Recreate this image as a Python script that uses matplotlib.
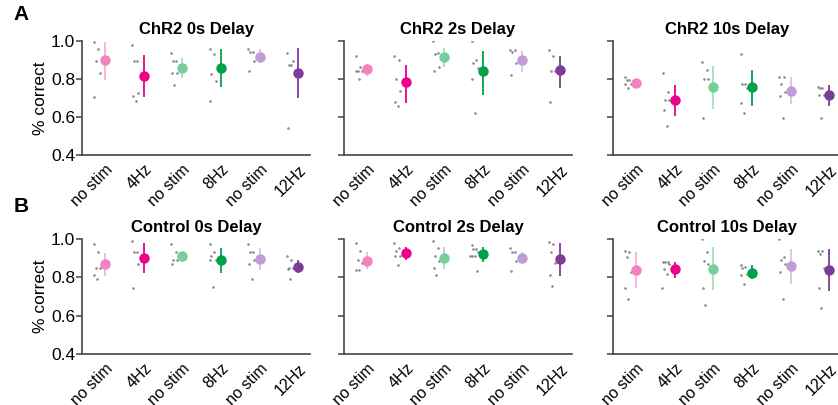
import matplotlib
matplotlib.use("Agg")
import matplotlib.pyplot as plt
import numpy as np

plt.rcParams['font.family'] = ['Liberation Sans', 'DejaVu Sans']

# categorias e cores
categorias = ["no stim", "4Hz", "no stim", "8Hz", "no stim", "12Hz"]
cores_media = ["#F283C0", "#EC008C", "#74CF9A", "#00A14B", "#C19BD6", "#7D3C98"]
cores_erro = ["#F7B3D8", "#EC008C", "#A5E0BE", "#00A14B", "#D9C2E6", "#7D3C98"]

titulos = ["ChR2 0s Delay", "ChR2 2s Delay", "ChR2 10s Delay",
           "Control 0s Delay", "Control 2s Delay", "Control 10s Delay"]

# ChR2 0s
chr2_0_media = [0.898, 0.816, 0.860, 0.858, 0.918, 0.832]
chr2_0_inf = [0.795, 0.705, 0.804, 0.756, 0.883, 0.698]
chr2_0_sup = [0.996, 0.926, 0.912, 0.956, 0.956, 0.962]
chr2_0_pts = [[0.996, 0.956, 0.893, 0.833, 0.705],
              [0.979, 0.893, 0.893, 0.725, 0.712, 0.686],
              [0.938, 0.893, 0.893, 0.833, 0.833, 0.768],
              [0.956, 0.930, 0.825, 0.791, 0.686],
              [0.956, 0.940, 0.940, 0.895, 0.844],
              [0.938, 0.874, 0.874, 0.895, 0.540]]

# ChR2 2s
chr2_2_media = [0.853, 0.784, 0.918, 0.844, 0.900, 0.846]
chr2_2_inf = [0.816, 0.672, 0.865, 0.718, 0.835, 0.751]
chr2_2_sup = [0.879, 0.872, 0.965, 0.949, 0.949, 0.921]
chr2_2_pts = [[0.921, 0.861, 0.842, 0.842, 0.842, 0.800],
              [0.921, 0.900, 0.800, 0.737, 0.681, 0.658],
              [1.000, 0.937, 0.930, 0.861, 0.840],
              [1.000, 0.900, 0.883, 0.860, 0.800, 0.619],
              [0.954, 0.954, 0.940, 0.886, 0.821],
              [0.953, 0.923, 0.844, 0.844, 0.681]]

# ChR2 10s
chr2_10_media = [0.781, 0.689, 0.756, 0.756, 0.738, 0.714]
chr2_10_inf = [0.770, 0.605, 0.640, 0.658, 0.667, 0.660]
chr2_10_sup = [0.790, 0.768, 0.870, 0.847, 0.809, 0.768]
chr2_10_pts = [[0.811, 0.795, 0.795, 0.772, 0.772, 0.751],
               [0.833, 0.733, 0.692, 0.692, 0.637, 0.554],
               [0.891, 0.847, 0.800, 0.800, 0.596],
               [0.930, 0.774, 0.774, 0.754, 0.672, 0.623],
               [0.811, 0.811, 0.772, 0.733, 0.712, 0.596],
               [0.758, 0.753, 0.753, 0.716, 0.716, 0.596]]

# Control 0s
ctrl_0_media = [0.868, 0.899, 0.911, 0.890, 0.896, 0.856]
ctrl_0_inf = [0.807, 0.821, 0.882, 0.821, 0.838, 0.821]
ctrl_0_sup = [0.929, 0.977, 0.934, 0.955, 0.951, 0.890]
ctrl_0_pts = [[0.972, 0.930, 0.850, 0.850, 0.812, 0.791],
              [0.990, 0.930, 0.930, 0.868, 0.743],
              [0.972, 0.930, 0.890, 0.890, 0.868],
              [0.972, 0.930, 0.911, 0.890, 0.890, 0.751],
              [0.972, 0.930, 0.930, 0.890, 0.868, 0.791],
              [0.911, 0.890, 0.850, 0.850, 0.842, 0.791]]

# Control 2s
ctrl_2_media = [0.887, 0.925, 0.899, 0.920, 0.900, 0.894]
ctrl_2_inf = [0.845, 0.890, 0.843, 0.878, 0.868, 0.807]
ctrl_2_sup = [0.932, 0.957, 0.957, 0.960, 0.930, 0.977]
ctrl_2_pts = [[0.978, 0.937, 0.890, 0.873, 0.840, 0.840],
              [0.978, 0.951, 0.937, 0.911, 0.911, 0.864],
              [0.991, 0.955, 0.911, 0.887, 0.847, 0.812],
              [0.970, 0.950, 0.950, 0.930, 0.910, 0.910, 0.910, 0.835],
              [0.955, 0.930, 0.930, 0.887, 0.835],
              [0.985, 0.975, 0.930, 0.873, 0.812, 0.755]]

# Control 10s
ctrl_10_media = [0.838, 0.842, 0.843, 0.824, 0.859, 0.838]
ctrl_10_inf = [0.742, 0.795, 0.734, 0.790, 0.765, 0.730]
ctrl_10_sup = [0.930, 0.880, 0.957, 0.865, 0.950, 0.950]
ctrl_10_pts = [[0.940, 0.930, 0.908, 0.830, 0.742, 0.685],
               [0.882, 0.882, 0.882, 0.870, 0.842, 0.817, 0.742],
               [1.000, 0.930, 0.885, 0.870, 0.742, 0.656],
               [0.865, 0.855, 0.850, 0.820, 0.810, 0.763],
               [1.000, 0.905, 0.890, 0.870, 0.830, 0.685],
               [0.935, 0.935, 0.920, 0.850, 0.742, 0.638]]

paineis = [
    (chr2_0_media, chr2_0_inf, chr2_0_sup, chr2_0_pts),
    (chr2_2_media, chr2_2_inf, chr2_2_sup, chr2_2_pts),
    (chr2_10_media, chr2_10_inf, chr2_10_sup, chr2_10_pts),
    (ctrl_0_media, ctrl_0_inf, ctrl_0_sup, ctrl_0_pts),
    (ctrl_2_media, ctrl_2_inf, ctrl_2_sup, ctrl_2_pts),
    (ctrl_10_media, ctrl_10_inf, ctrl_10_sup, ctrl_10_pts),
]

W, H = 838, 405
fig = plt.figure(figsize=(W / 100, H / 100), dpi=100)

esquerdas = [82, 344, 613]
largura = 228
linhas = [(41, 155), (239, 354)]  # topo e base em pixels

cor_eixo = "#444444"
desloc = [-0.30, -0.18, -0.25, -0.14, -0.28, -0.21, -0.33, -0.16]

for k, (media, inf, sup, pts) in enumerate(paineis):
    lin, col = divmod(k, 3)
    topo, base = linhas[lin]
    ax = fig.add_axes([esquerdas[col] / W, 1 - base / H, largura / W, (base - topo) / H])
    x = np.arange(len(categorias))

    # pontos individuais (cinza, à esquerda da média)
    for i, ys in enumerate(pts):
        xs = [i + desloc[j % len(desloc)] for j in range(len(ys))]
        ax.scatter(xs, ys, s=3.5, color="#8a8a8a", linewidths=0, zorder=2)

    # média e intervalo
    for i in range(len(categorias)):
        ax.plot([x[i], x[i]], [inf[i], sup[i]], color=cores_erro[i], lw=1.3,
                solid_capstyle="butt", zorder=3)
        ax.plot(x[i], media[i], "o", ms=7.5, color=cores_media[i], mec="none", zorder=4)

    ax.set_xlim(-0.6, 5.3)
    ax.set_ylim(0.4, 1.0)
    ax.set_yticks([0.4, 0.6, 0.8, 1.0])
    ax.set_xticks(x)
    ax.set_xticklabels(categorias, rotation=45, ha="right", rotation_mode="anchor",
                       fontsize=11.5)
    ax.tick_params(axis="x", length=0, pad=5)
    ax.tick_params(axis="y", length=4, width=1.1, color=cor_eixo, labelsize=12.5, pad=1)
    if col == 0:
        ax.set_yticklabels(["0.4", "0.6", "0.8", "1.0"])
        ax.set_ylabel("% correct", fontsize=12.5, labelpad=2)
    else:
        ax.set_yticklabels([])
    for lado in ["top", "right"]:
        ax.spines[lado].set_visible(False)
    for lado in ["left", "bottom"]:
        ax.spines[lado].set_linewidth(1.2)
        ax.spines[lado].set_color(cor_eixo)
    ax.set_title(titulos[k], fontsize=12, fontweight="bold", pad=5)

fig.text(21 / W, 1 - 15 / H, "A", fontsize=15, fontweight="bold", ha="center", va="center")
fig.text(21 / W, 1 - 206 / H, "B", fontsize=15, fontweight="bold", ha="center", va="center")

fig.savefig("out.png", dpi=100)
